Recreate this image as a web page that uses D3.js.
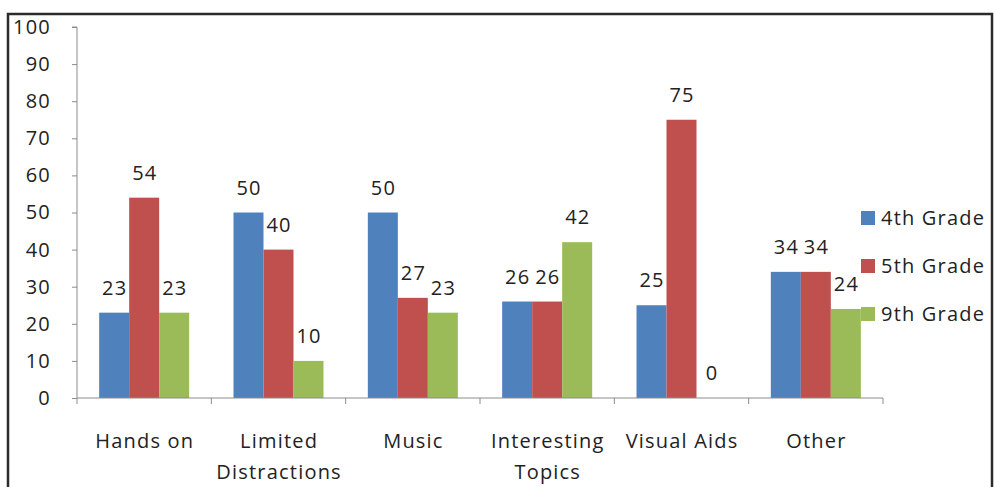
<!DOCTYPE html>
<html><head><meta charset="utf-8">
<script src="https://cdn.jsdelivr.net/npm/d3@7"></script>
<style>body{margin:0;background:#fff}svg{display:block}svg text{letter-spacing:1.2px}</style>
</head><body><svg id="c" width="995" height="487"></svg>
<script>
const categories = [["Hands on"],["Limited","Distractions"],["Music"],["Interesting","Topics"],["Visual Aids"],["Other"]];
const seriesNames = ["4th Grade","5th Grade","9th Grade"];
const grade4 = [23,50,50,26,25,34];
const grade5 = [54,40,27,26,75,34];
const grade9 = [23,10,23,42,0,24];
const colors = ["#4f81bd","#c0504d","#9bbb59"];
const yTicks = [0,10,20,30,40,50,60,70,80,90,100];

const svg = d3.select("#c");
const font = "'Open Sans', sans-serif";
const fs = 20;
svg.append("rect").attr("x",8).attr("y",14).attr("width",984).attr("height",490)
  .attr("fill","#fff").attr("stroke","#2b2b2b").attr("stroke-width",2.5);

const x0 = d3.scaleBand().domain(d3.range(categories.length)).range([77,883]).paddingInner(0.33).paddingOuter(0.165);
const y = d3.scaleLinear().domain([0,100]).range([398,27]);
const x1 = d3.scaleBand().domain(d3.range(3)).range([0,x0.bandwidth()]);
const series = [grade4,grade5,grade9];

// y axis
const ya = svg.append("g").attr("transform","translate(77,0)").call(d3.axisLeft(y).tickValues(yTicks).tickSize(5).tickPadding(21));
ya.select(".domain").attr("stroke","#8c8c8c").attr("d","M-5,"+y(100)+"H0V"+y(0));
ya.selectAll(".tick line").attr("stroke","#8c8c8c");
ya.selectAll("text").attr("font-family",font).attr("font-size",fs).attr("fill","#222");

// bars
series.forEach((s,si)=>{
  svg.append("g").selectAll("rect").data(s).join("rect")
    .attr("x",(d,i)=>x0(i)+x1(si)).attr("width",x1.bandwidth())
    .attr("y",d=>y(d)).attr("height",d=>y(0)-y(d)).attr("fill",colors[si]);
  svg.append("g").selectAll("text").data(s).join("text")
    .attr("x",(d,i)=>x0(i)+x1(si)+x1.bandwidth()/2+0.6).attr("y",d=>y(d)-18)
    .attr("text-anchor","middle").attr("font-family",font).attr("font-size",fs).attr("fill","#222")
    .text(d=>d);
});

// x axis
const step = (883-77)/categories.length;
svg.append("path").attr("stroke","#8c8c8c").attr("fill","none")
  .attr("d","M77,"+y(0)+"H883");
d3.range(categories.length+1).forEach(i=>{
  svg.append("line").attr("x1",77+i*step).attr("x2",77+i*step).attr("y1",y(0)).attr("y2",y(0)+6).attr("stroke","#8c8c8c");
});
categories.forEach((c,i)=>{
  const t = svg.append("text").attr("text-anchor","middle").attr("font-family",font).attr("font-size",fs).attr("fill","#222");
  c.forEach((line,j)=>t.append("tspan").attr("x",x0(i)+x0.bandwidth()/2+0.6).attr("y",448+j*31).text(line));
});

// legend
seriesNames.forEach((n,i)=>{
  const yy = 218+i*48;
  svg.append("rect").attr("x",861).attr("y",yy-7).attr("width",14).attr("height",14).attr("fill",colors[i]);
  svg.append("text").attr("x",881).attr("y",yy+7).attr("font-family",font).attr("font-size",fs).attr("fill","#222").text(n);
});
</script></body></html>
